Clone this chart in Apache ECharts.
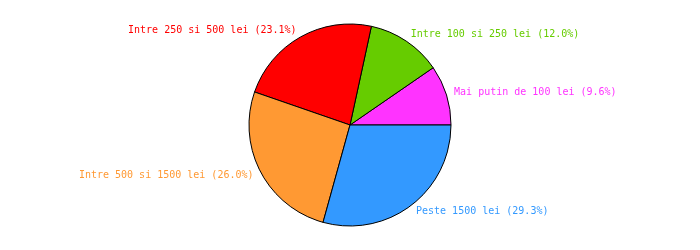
<!DOCTYPE html>
<html><head><meta charset="utf-8">
<script src="https://cdn.jsdelivr.net/npm/echarts@6/dist/echarts.min.js"></script>
<style>html,body{margin:0;padding:0;background:#fff}#c{width:700px;height:250px}</style>
</head><body><div id="c"></div>
<script>
const categories = ['Mai putin de 100 lei','Intre 100 si 250 lei','Intre 250 si 500 lei','Intre 500 si 1500 lei','Peste 1500 lei'];
const values = [9.6, 12.0, 23.1, 26.0, 29.3];
const colors = ['#ff33ff','#66cc00','#ff0000','#ff9933','#3399ff'];

const chart = echarts.init(document.getElementById('c'), null, {renderer:'canvas'});
chart.setOption({
  animation: false,
  backgroundColor: '#ffffff',
  series: [{
    type: 'pie',
    center: [350, 125],
    radius: 101,
    startAngle: 0,
    clockwise: false,
    avoidLabelOverlap: false,
    minShowLabelAngle: 0,
    itemStyle: { borderColor: '#000', borderWidth: 1 },
    label: {
      show: true,
      position: 'outside',
      fontFamily: 'DejaVu Sans Mono',
      fontSize: 10,
      padding: [3, 0, 0, 0],
      distanceToLabelLine: 0,
      formatter: p => p.name + ' (' + p.value.toFixed(1) + '%)'
    },
    labelLine: { show: false, length: 8, length2: 0 },
    emphasis: { disabled: true },
    data: categories.map((n, i) => ({
      name: n, value: values[i],
      itemStyle: { color: colors[i] },
      label: { color: colors[i] }
    }))
  }]
});
</script></body></html>
